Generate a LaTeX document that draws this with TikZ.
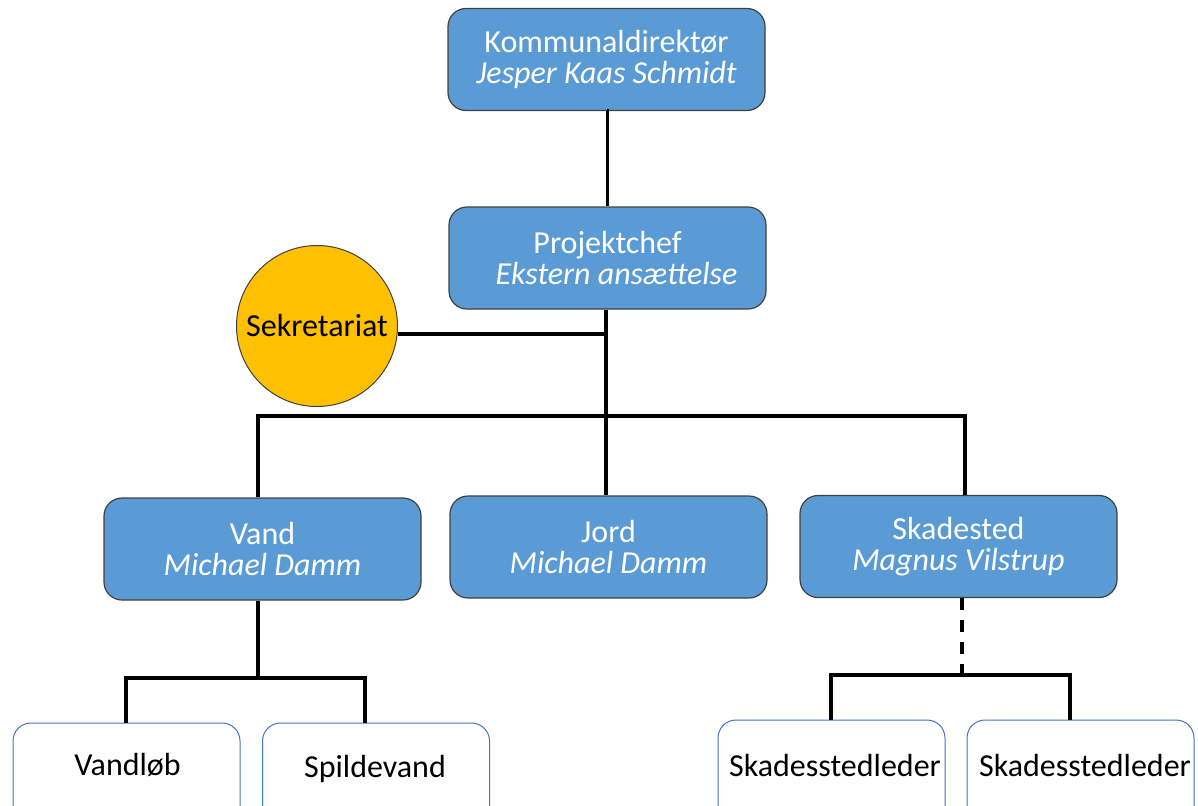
\documentclass[tikz,border=0pt]{standalone}
\usepackage{fontspec}
\setmainfont{Carlito}
\definecolor{boxblue}{HTML}{5B9BD5}
\definecolor{boxedge}{HTML}{404040}
\definecolor{gold}{HTML}{FFC000}
\definecolor{thinblue}{HTML}{4472C4}
\begin{document}
\begin{tikzpicture}[x=1pt,y=-1pt,
  txt/.style={font=\fontsize{32}{31}\selectfont},
  bluebox/.style={txt,draw=boxedge,line width=1.2pt,fill=boxblue,rounded corners=18pt,
    minimum width=317pt,minimum height=102pt,inner sep=0pt,align=center,text=white},
  whitebox/.style={draw=thinblue,line width=1pt,fill=white,rounded corners=18pt,
    minimum width=227pt,minimum height=110pt,inner sep=0pt},
  conn/.style={line width=3.5pt,black},
  dconn/.style={line width=3.5pt,black,dash pattern=on 12pt off 10pt}]
\useasboundingbox (0,0) rectangle (1198,805);
\clip (0,0) rectangle (1198,805);
\node[bluebox] (kd) at (606.5,59.5) {Kommunaldirektør\\\textit{Jesper Kaas Schmidt}};
\node[bluebox] (pc) at (607.5,258) {Projektchef\\\hspace*{18pt}\textit{Ekstern ansættelse}};
\node[circle,draw=boxedge,line width=1pt,fill=gold,minimum size=161pt,inner sep=0pt,txt]
  (sek) at (317,326) {Sekretariat};
\node[bluebox] (vand) at (262.5,549) {Vand\\\textit{Michael Damm}};
\node[bluebox] (jord) at (608.5,547) {Jord\\\textit{Michael Damm}};
\node[bluebox] (sk) at (958.5,546.5) {Skadested\\\textit{Magnus Vilstrup}};
\node[whitebox] (vl) at (126.5,778) {};
\node[whitebox] (sp) at (376,778) {};
\node[whitebox] (sl1) at (831.5,775) {};
\node[whitebox] (sl2) at (1080.5,775) {};
\node[txt] (vlt) at (127.5,765) {Vandløb};
\node[txt] (spt) at (375,769) {Spildevand};
\node[txt] (sl1t) at (835,765) {Skadesstedleder};
\node[txt] (sl2t) at (1085,765) {Skadesstedleder};
% junctions
\coordinate (j1) at (606,334);
\coordinate (j2) at (606,416);
\coordinate (jv) at (258,678);
\coordinate (js) at (962,675);
% connectors
\draw[conn] (kd.south) -- (pc.south |- kd.south) -- (pc.north);
\draw[conn] (pc.south -| j1) -- (j2);
\draw[conn] (j1) -- (j1 -| sek.east);
\draw[conn] (258,0 |- vand.north) -- (258,0 |- j2) -- (965,0 |- j2) -- (965,0 |- sk.north);
\draw[conn] (j2) -- (j2 |- jord.north);
\draw[conn] (vand.south -| jv) -- (jv);
\draw[conn] (126,0 |- vl.north) -- (126,0 |- jv) -- (365,0 |- jv) -- (365,0 |- sp.north);
\draw[dconn] (sk.south -| js) -- (js);
\draw[conn] (831,0 |- sl1.north) -- (831,0 |- js) -- (1070,0 |- js) -- (1070,0 |- sl2.north);
\end{tikzpicture}
\end{document}
